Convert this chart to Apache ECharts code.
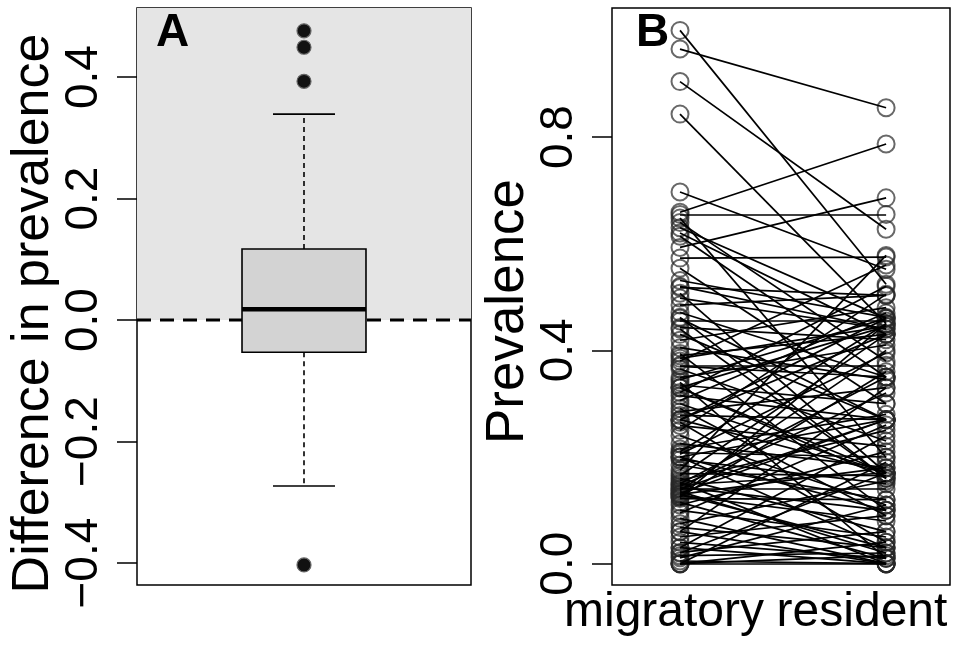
<!DOCTYPE html>
<html><head><meta charset="utf-8">
<script src="https://cdn.jsdelivr.net/npm/echarts@6/dist/echarts.min.js"></script>
<style>html,body{margin:0;padding:0;background:#fff}#c{width:958px;height:647px}</style>
</head><body><div id="c"></div><script>
// ---- Panel A data: difference in prevalence (migratory - resident) ----
const diffTicks = [-0.4, -0.2, 0.0, 0.2, 0.4];
const boxStats = [-0.273, -0.053, 0.018, 0.117, 0.339]; // lower whisker, Q1, median, Q3, upper whisker
const diffOutliers = [0.476, 0.449, 0.393, -0.403];
// ---- Panel B data: paired prevalence ----
const prevTicks = [0.0, 0.4, 0.8];
const groups = ['migratory', 'resident'];
const migratory = [1.000,0.965,0.904,0.843,0.697,0.659,0.655,0.648,0.640,0.614,0.593,0.573,0.554,0.531,0.518,0.507,0.498,0.485,0.471,0.462,
 0.455,0.443,0.430,0.419,0.405,0.394,0.385,0.380,0.372,0.365,0.349,0.345,0.340,0.335,0.330,0.321,0.315,0.306,0.300,0.291,
 0.285,0.278,0.270,0.265,0.259,0.250,0.240,0.225,0.215,0.208,0.205,0.200,0.195,0.185,0.175,0.169,0.165,0.160,0.156,0.152,
 0.148,0.145,0.143,0.140,0.137,0.135,0.132,0.130,0.128,0.125,0.122,0.115,0.110,0.100,0.095,0.085,0.075,0.068,0.060,0.050,
 0.040,0.030,0.030,0.021,0.015,0.011,0.005,0.000,0.000,0.000,0.000,
 0.520,0.460,0.440,0.390,0.370,0.330,0.330,0.270,0.270,0.210,0.200,0.150,0.140,0.130,0.125,0.200,0.060,0.020,0.630,0.620];
const resident = [0.524,0.855,0.627,0.450,0.552,0.787,0.655,0.199,0.380,0.350,0.686,0.575,0.300,0.462,0.503,0.170,0.440,0.503,0.350,0.160,
 0.455,0.420,0.270,0.480,0.345,0.100,0.445,0.560,0.372,0.230,0.410,0.460,0.010,0.300,0.160,0.520,0.270,0.470,0.170,0.090,
 0.330,0.270,0.430,0.040,0.220,0.505,0.110,0.180,0.280,0.200,0.395,0.030,0.150,0.120,0.578,0.165,0.430,0.060,0.250,0.000,
 0.170,0.320,0.100,0.140,0.400,0.020,0.270,0.180,0.080,0.360,0.120,0.010,0.210,0.050,0.260,0.000,0.155,0.030,0.330,0.090,
 0.010,0.240,0.000,0.060,0.020,0.110,0.000,0.015,0.000,0.190,0.040,
 0.440,0.270,0.160,0.430,0.350,0.445,0.170,0.460,0.170,0.450,0.100,0.350,0.270,0.030,0.450,0.270,0.000,0.170,0.460,0.430];

const FONT = '"Liberation Sans", Arial, Helvetica, sans-serif';
const chart = echarts.init(document.getElementById('c'), null, {renderer: 'canvas'});

const pairLines = migratory.map((m, i) => ({coords: [[1, m], [2, resident[i]]]}));
const pointsMig = migratory.map(v => [1, v]);
const pointsRes = resident.map(v => [2, v]);

const axisTxt = {color: '#000', fontFamily: FONT};

chart.setOption({
  animation: false,
  backgroundColor: '#fff',
  grid: [
    {left: 137, top: 8, width: 334, height: 577, show: true, borderColor: '#000', borderWidth: 1.5, backgroundColor: '#fff', containLabel: false, outerBoundsMode: 'none'},
    {left: 612, top: 8, width: 338, height: 577, show: true, borderColor: '#000', borderWidth: 1.5, backgroundColor: '#fff', containLabel: false, outerBoundsMode: 'none'}
  ],
  xAxis: [
    {gridIndex: 0, type: 'value', min: 0, max: 1, show: false},
    {gridIndex: 1, type: 'value', min: 0.67, max: 2.31,
     axisLine: {show: false}, axisTick: {show: false}, splitLine: {show: false}, axisLabel: {show: false}}
  ],
  yAxis: [
    {gridIndex: 0, type: 'value', min: -0.436, max: 0.5136,
     name: 'Difference in prevalence', nameLocation: 'middle', nameRotate: 90, nameGap: 76,
     nameTextStyle: {fontSize: 52, padding: [0, 34, 0, 0], ...axisTxt},
     axisLine: {show: false}, splitLine: {show: false},
     axisTick: {customValues: diffTicks, length: 20, lineStyle: {color: '#000', width: 1.5}},
     axisLabel: {customValues: diffTicks, rotate: 90, fontSize: 46, margin: 30, formatter: v => v.toFixed(1).replace('-', '\u2212'), ...axisTxt}},
    {gridIndex: 1, type: 'value', min: -0.04, max: 1.042,
     name: 'Prevalence', nameLocation: 'middle', nameRotate: 90, nameGap: 67,
     nameTextStyle: {fontSize: 53, padding: [0, 30, 0, 0], ...axisTxt},
     axisLine: {show: false}, splitLine: {show: false},
     axisTick: {customValues: prevTicks, length: 20, lineStyle: {color: '#000', width: 1.5}},
     axisLabel: {customValues: prevTicks, rotate: 90, fontSize: 46, margin: 30, formatter: v => v.toFixed(1), ...axisTxt}}
  ],
  graphic: [
    {type: 'text', left: 156, top: 10, style: {text: 'A', font: 'bold 46px ' + FONT, fill: '#000'}, z: 100},
    {type: 'text', left: 636, top: 10, style: {text: 'B', font: 'bold 46px ' + FONT, fill: '#000'}, z: 100},
    {type: 'text', x: 664, y: 589, style: {text: groups[0], font: '48px ' + FONT, fill: '#000', textAlign: 'center', textVerticalAlign: 'top'}, z: 100},
    {type: 'text', x: 862, y: 589, style: {text: groups[1], font: '48px ' + FONT, fill: '#000', textAlign: 'center', textVerticalAlign: 'top'}, z: 100}
  ],
  series: [
    // shaded positive region + dashed zero line
    {type: 'custom', xAxisIndex: 0, yAxisIndex: 0, data: [[0]], silent: true, z: 1,
     renderItem: (params, api) => {
       const cs = params.coordSys;
       const y0 = api.coord([0, 0])[1];
       return {type: 'group', children: [
         {type: 'rect', shape: {x: cs.x, y: cs.y, width: cs.width, height: y0 - cs.y}, style: {fill: '#e5e5e5'}},
         {type: 'line', shape: {x1: cs.x, y1: y0, x2: cs.x + cs.width, y2: y0}, style: {stroke: '#000', lineWidth: 3, lineDash: [14, 9]}}
       ]};
     }},
    // boxplot
    {type: 'custom', xAxisIndex: 0, yAxisIndex: 0, data: [[0.5].concat(boxStats)], silent: true, z: 3,
     renderItem: (params, api) => {
       const x = api.value(0);
       const lo = api.value(1), q1 = api.value(2), med = api.value(3), q3 = api.value(4), hi = api.value(5);
       const c = api.coord([x, med]);
       const hw = api.size([0.1856, 0])[0];
       const cw = api.size([0.0928, 0])[0];
       const yQ1 = api.coord([x, q1])[1], yQ3 = api.coord([x, q3])[1];
       const yLo = api.coord([x, lo])[1], yHi = api.coord([x, hi])[1];
       const dash = {stroke: '#000', lineWidth: 1.6, lineDash: [5, 4]};
       const solid = {stroke: '#000', lineWidth: 1.6};
       return {type: 'group', children: [
         {type: 'line', shape: {x1: c[0], y1: yQ3, x2: c[0], y2: yHi}, style: dash},
         {type: 'line', shape: {x1: c[0], y1: yQ1, x2: c[0], y2: yLo}, style: dash},
         {type: 'line', shape: {x1: c[0] - cw, y1: yHi, x2: c[0] + cw, y2: yHi}, style: solid},
         {type: 'line', shape: {x1: c[0] - cw, y1: yLo, x2: c[0] + cw, y2: yLo}, style: solid},
         {type: 'rect', shape: {x: c[0] - hw, y: yQ3, width: 2 * hw, height: yQ1 - yQ3}, style: {fill: '#d3d3d3', stroke: '#000', lineWidth: 1.6}},
         {type: 'line', shape: {x1: c[0] - hw, y1: c[1], x2: c[0] + hw, y2: c[1]}, style: {stroke: '#000', lineWidth: 4.5}}
       ]};
     }},
    {type: 'scatter', xAxisIndex: 0, yAxisIndex: 0, z: 4, silent: true,
     data: diffOutliers.map(v => [0.5, v]), symbol: 'circle', symbolSize: 14,
     itemStyle: {color: '#111', borderColor: '#666', borderWidth: 1.2, opacity: 1}},
    // panel B points
    {type: 'scatter', xAxisIndex: 1, yAxisIndex: 1, z: 2, silent: true,
     data: pointsMig.concat(pointsRes), symbol: 'circle', symbolSize: 17,
     itemStyle: {color: 'rgba(0,0,0,0)', borderColor: 'rgba(40,40,40,0.7)', borderWidth: 2, opacity: 1}},
    // panel B pair lines
    {type: 'lines', coordinateSystem: 'cartesian2d', xAxisIndex: 1, yAxisIndex: 1, z: 3, silent: true,
     data: pairLines, lineStyle: {color: '#000', width: 1.7, opacity: 1, curveness: 0}}
  ]
});
</script></body></html>
